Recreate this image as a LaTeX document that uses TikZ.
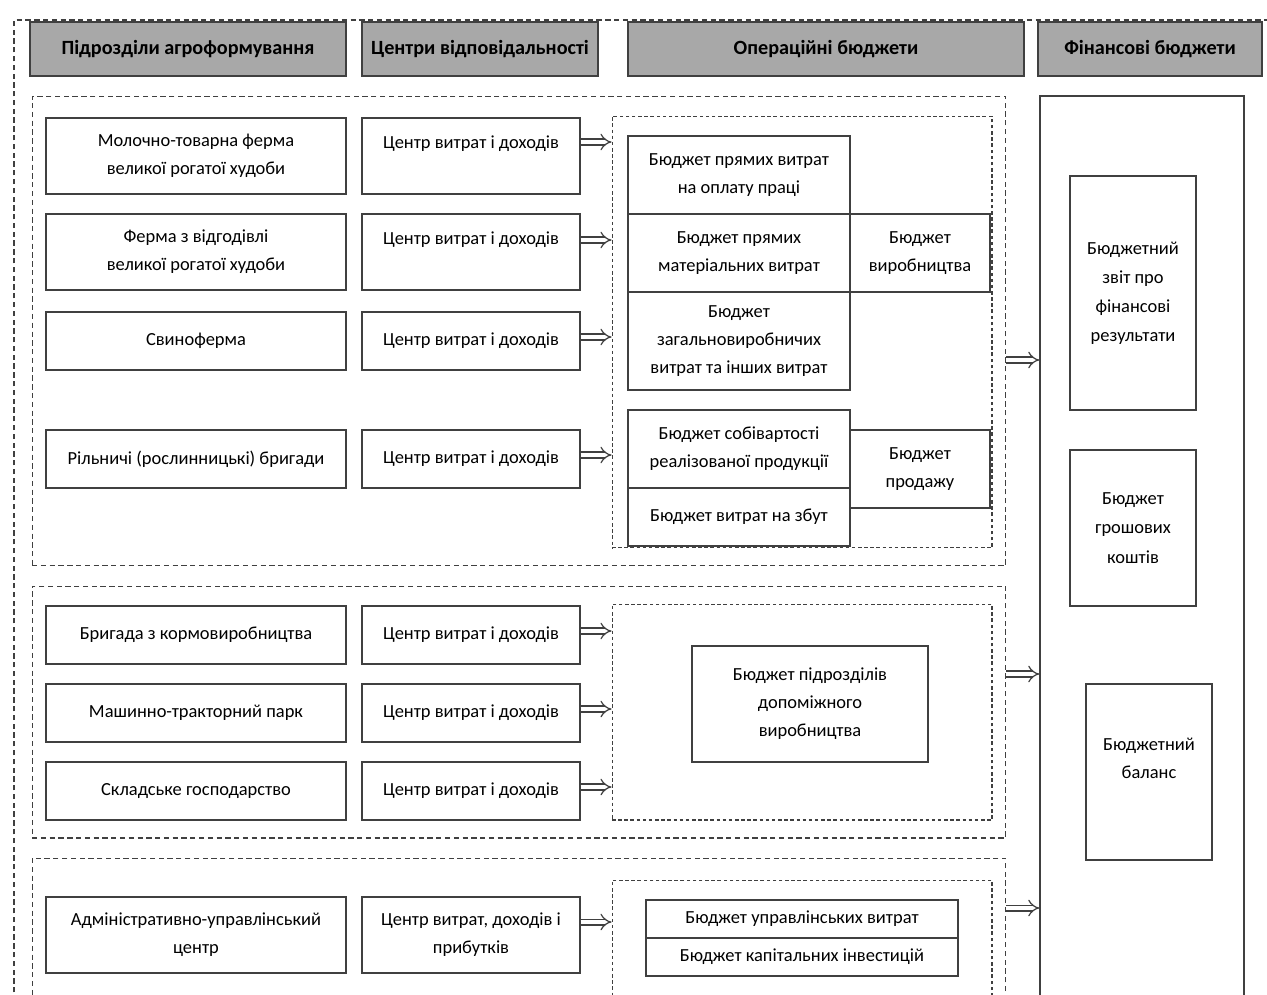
\documentclass[tikz,border=0pt]{standalone}
\usepackage{fontspec}
\setmainfont{Carlito}
\usetikzlibrary{arrows.meta}
\usetikzlibrary{shadows}
\definecolor{hdrfill}{HTML}{A8A8A8}
\definecolor{edgegray}{HTML}{404040}

\begin{document}
\begin{tikzpicture}[x=0.02cm, y=-0.02cm,
    every node/.style={font=\fontsize{10.5}{16}\selectfont, align=center, inner sep=0pt},
    hdr/.style={draw=edgegray, line width=0.8pt, fill=hdrfill, font=\bfseries\fontsize{11.5}{14}\selectfont,
      minimum height=1.08cm, drop shadow={shadow xshift=0.6pt, shadow yshift=-0.8pt, opacity=0.7}},
    unit/.style={draw=edgegray, line width=0.8pt, fill=white, minimum width=6cm},
    ctr/.style={draw=edgegray, line width=0.8pt, fill=white, minimum width=4.36cm},
    bud/.style={draw=edgegray, line width=0.8pt, fill=white},
    grp/.style={draw=edgegray, dash pattern=on 3pt off 2pt, line width=0.6pt},
    opgrp/.style={draw=edgegray, dash pattern=on 2pt off 1.5pt, line width=0.6pt},
    flow/.style={draw=edgegray, double=white, double distance=2.6pt, line width=0.7pt, -{Implies}}]
  \useasboundingbox (0,0) rectangle (1267,994);
  \clip (0,0) rectangle (1267,994);
  \fill[white] (0,0) rectangle (1267,994);
  \draw[grp] (14,1010) -- (14,20) -- (1267,20);  %outer frame
  % headers
  \node[hdr, minimum width=6.32cm] (hUnits) at (188,49) {Підрозділи агроформування};
  \node[hdr, minimum width=4.72cm] (hCentres) at (480,49) {Центри відповідальності};
  \node[hdr, minimum width=7.92cm] (hOper) at (826,49) {Операційні бюджети};
  \node[hdr, minimum width=4.48cm] (hFin) at (1150,49) {Фінансові бюджети};
  % groups of units
  \node[grp, minimum width=19.48cm, minimum height=9.4cm] (gA) at (519,331) {};
  \node[grp, minimum width=19.48cm, minimum height=5.04cm] (gB) at (519,712) {};
  \node[grp, minimum width=19.48cm, minimum height=3.04cm] (gC) at (519,934) {};
  \node[opgrp, minimum width=7.6cm, minimum height=8.64cm] (oA) at (802,332) {};
  \node[opgrp, minimum width=7.6cm, minimum height=4.32cm] (oB) at (802,712) {};
  \node[opgrp, minimum width=7.6cm, minimum height=2.6cm] (oC) at (802,945) {};
  \node[bud, minimum width=4.08cm, minimum height=18.28cm] (fin) at (1142,553) {};
  % units and responsibility centres
  \foreach \n/\y/\h/\txt in {
      1/156/1.52/{Молочно-товарна ферма\\великої рогатої худоби},
      2/252/1.52/{Ферма з відгодівлі\\великої рогатої худоби},
      3/341/1.16/{Свиноферма},
      4/459/1.16/{Рільничі (рослинницькі) бригади},
      5/635/1.16/{Бригада з кормовиробництва},
      6/713/1.16/{Машинно-тракторний парк},
      7/791/1.16/{Складське господарство},
      8/935/1.52/{Адміністративно-управлінський\\центр}}
  {
    \node[unit, minimum height=\h cm] (u\n) at (196,\y) {\txt};
  }
  \foreach \n/\y/\h/\ay/\o/\txt in {
      1/156/1.52/142/oA/{Центр витрат і доходів\\\mbox{}},
      2/252/1.52/240/oA/{Центр витрат і доходів\\\mbox{}},
      3/341/1.16/337/oA/{Центр витрат і доходів},
      4/459/1.16/455/oA/{Центр витрат і доходів},
      5/635/1.16/631/oB/{Центр витрат і доходів},
      6/713/1.16/709/oB/{Центр витрат і доходів},
      7/791/1.16/787/oB/{Центр витрат і доходів},
      8/935/1.52/922/oC/{Центр витрат, доходів і\\прибутків}}
  {
    \node[ctr, minimum height=\h cm] (c\n) at (471,\y) {\txt};
    \draw[flow] (c\n.east |- 0,\ay) -- (\o.west |- 0,\ay);
  }
  % operating budgets
  \node[bud, minimum width=4.44cm, minimum height=1.56cm] (bLabour) at (739,175) {Бюджет прямих витрат\\на оплату праці};
  \node[bud, minimum width=4.44cm, minimum height=1.56cm] (bMater) at (739,253) {Бюджет прямих\\матеріальних витрат};
  \node[bud, minimum width=2.8cm, minimum height=1.56cm] (bProd) at (920,253) {Бюджет\\виробництва};
  \node[bud, minimum width=4.44cm, minimum height=1.96cm] (bOverh) at (739,341) {Бюджет\\загальновиробничих\\витрат та інших витрат};
  \node[bud, minimum width=2.8cm, minimum height=1.56cm] (bSales) at (920,469) {Бюджет\\продажу};
  \node[bud, minimum width=4.44cm, minimum height=1.56cm] (bCost) at (739,449) {Бюджет собівартості\\реалізованої продукції};
  \node[bud, minimum width=4.44cm, minimum height=1.16cm] (bDistr) at (739,517) {Бюджет витрат на збут};
  \node[bud, minimum width=4.72cm, minimum height=2.32cm] (bAux) at (810,704) {Бюджет підрозділів\\допоміжного\\виробництва};
  \node[bud, minimum width=6.24cm, minimum height=0.76cm] (bAdmin) at (802,919) {Бюджет управлінських витрат};
  \node[bud, minimum width=6.24cm, minimum height=0.76cm] (bInvest) at (802,957) {Бюджет капітальних інвестицій};
  % financial budgets
  \node[bud, minimum width=2.52cm, minimum height=4.68cm, font=\fontsize{10.5}{16.6}\selectfont] (fResult) at (1133,293) {Бюджетний\\звіт про\\фінансові\\результати};
  \node[bud, minimum width=2.52cm, minimum height=3.12cm, font=\fontsize{10.5}{16.6}\selectfont] (fCash) at (1133,528) {Бюджет\\грошових\\коштів};
  \node[bud, minimum width=2.52cm, minimum height=3.52cm] (fBalance) at (1149,772) {Бюджетний\\баланс\\\mbox{}};
  \foreach \g/\ay in {gA/360, gB/674, gC/908}
  {
    \draw[flow] (\g.east |- 0,\ay) -- (fin.west |- 0,\ay);
  }
\end{tikzpicture}
\end{document}
